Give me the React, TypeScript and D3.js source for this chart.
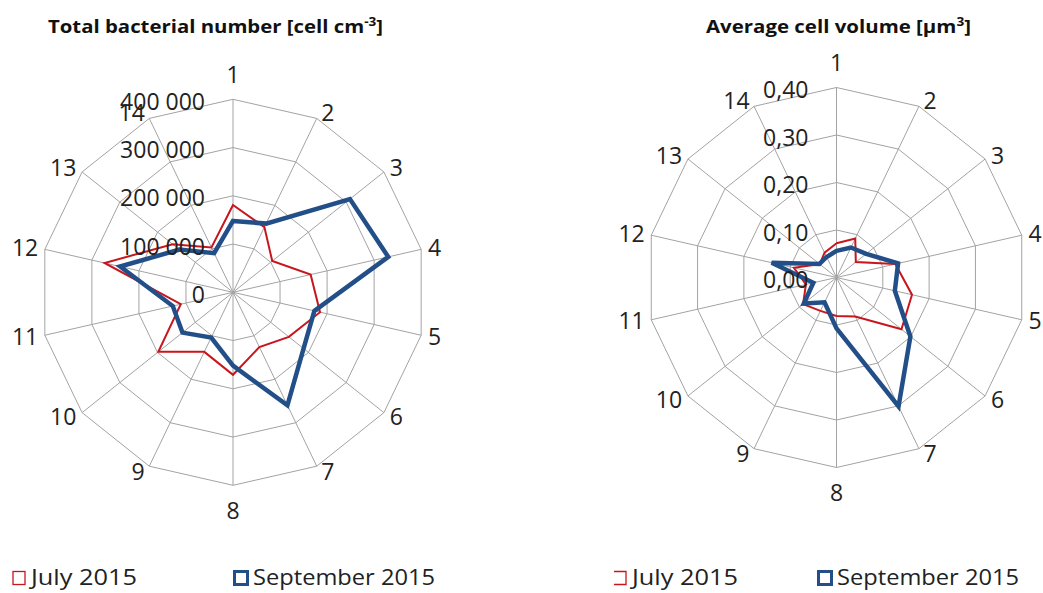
import React from 'react';
import * as d3 from 'd3';

const categories = ['1','2','3','4','5','6','7','8','9','10','11','12','13','14'];

// Total bacterial number [cell cm-3]
const bactJuly = [181000,150000,104000,165000,185000,148000,126000,171000,137000,198000,111000,273000,160000,103000];
const bactSept = [148000,158000,310000,330000,173000,187000,260000,152000,104000,134000,128000,240000,142000,90000];
const bactTicks = [0,100000,200000,300000,400000];
const bactTickLabels = ['0','100 000','200 000','300 000','400 000'];

// Average cell volume [µm3]
const volJuly = [0.072,0.091,0.052,0.127,0.163,0.175,0.091,0.081,0.078,0.090,0.066,0.092,0.045,0.058];
const volSept = [0.056,0.070,0.080,0.133,0.126,0.199,0.301,0.107,0.058,0.088,0.050,0.140,0.046,0.048];
const volTicks = [0,0.1,0.2,0.3,0.4];
const volTickLabels = ['0,00','0,10','0,20','0,30','0,40'];

const seriesNames = ['July 2015','September 2015'];
const RED = '#c8161d';
const BLUE = '#224f88';
const GRID = '#a3a3a3';
const FONT = '"Open Sans", "Noto Sans", sans-serif';

type RadarProps = {
  cx: number; cy: number; R: number;
  july: number[]; sept: number[];
  ticks: number[]; tickLabels: string[];
};

function Radar({ cx, cy, R, july, sept, ticks, tickLabels }: RadarProps) {
  const n = categories.length;
  const maxV = ticks[ticks.length - 1];
  const r = d3.scaleLinear().domain([0, maxV]).range([0, R]);
  const ang = (i: number) => (i * 2 * Math.PI) / n;
  const pt = (i: number, rad: number): [number, number] => [
    cx + rad * Math.sin(ang(i)),
    cy - rad * Math.cos(ang(i)),
  ];
  const line = d3
    .lineRadial<number>()
    .angle((_, i) => ang(i))
    .radius((d) => r(d))
    .curve(d3.curveLinearClosed);
  const fs = 23;
  return (
    <g>
      {ticks.slice(1).map((t, k) => (
        <polygon
          key={'ring' + k}
          points={categories.map((_, i) => pt(i, r(t)).join(',')).join(' ')}
          fill="none"
          stroke={GRID}
          strokeWidth={1}
        />
      ))}
      {categories.map((_, i) => {
        const [x, y] = pt(i, R);
        return <line key={'sp' + i} x1={cx} y1={cy} x2={x} y2={y} stroke={GRID} strokeWidth={1} />;
      })}
      <path d={line(july) || ''} transform={`translate(${cx},${cy})`} fill="none" stroke={RED} strokeWidth={2} strokeLinejoin="miter" />
      <path d={line(sept) || ''} transform={`translate(${cx},${cy})`} fill="none" stroke={BLUE} strokeWidth={4.5} strokeLinejoin="miter" />
      {ticks.map((t, k) => (
        <text
          key={'tl' + k}
          x={cx - 28}
          y={cy - r(t) + 2.4 + 0.357 * fs}
          textAnchor="end"
          fontFamily={FONT}
          fontSize={fs}
          fill="#222"
        >
          {tickLabels[k]}
        </text>
      ))}
      {categories.map((c, i) => {
        const s = Math.sin(ang(i));
        const co = Math.cos(ang(i));
        const [vx, vy] = pt(i, R);
        const hw = c.length * 6.4;
        let lx: number, ly: number;
        if (Math.abs(s) < 0.1) {
          lx = vx;
          ly = vy - co * 25;
        } else {
          lx = vx + Math.sign(s) * (hw + 3 + 4 * Math.abs(s));
          ly = vy - co * 6;
        }
        return (
          <text
            key={'cl' + i}
            x={lx}
            y={ly + 0.357 * fs}
            textAnchor="middle"
            fontFamily={FONT}
            fontSize={fs}
            fill="#222"
          >
            {c}
          </text>
        );
      })}
    </g>
  );
}

function Legend({ x0, x1, openRed }: { x0: number; x1: number; openRed?: boolean }) {
  const y = 585;
  return (
    <g fontFamily={FONT} fontSize={22} fill="#222">
      {openRed ? (
        <path d={`M${x0},571.5 H${x0 + 12} V584.5 H${x0}`} fill="none" stroke={RED} strokeWidth={1.3} />
      ) : (
        <rect x={x0} y={571.5} width={12} height={13} fill="none" stroke={RED} strokeWidth={1.3} />
      )}
      <text x={x0 + 18} y={y} textLength={106} lengthAdjust="spacingAndGlyphs">{seriesNames[0]}</text>
      <rect x={x1 + 1.5} y={571.5} width={13} height={13} fill="#fff" stroke={BLUE} strokeWidth={3} />
      <text x={x1 + 20} y={y} textLength={182} lengthAdjust="spacingAndGlyphs">{seriesNames[1]}</text>
    </g>
  );
}

export default function App() {
  return (
    <svg width={1043} height={593} style={{ position: 'absolute', left: 0, top: 0, background: '#fff' }}>
      <rect width={1043} height={593} fill="#fff" />
      <text x={48} y={32.7} fontFamily={FONT} fontWeight="bold" fontSize={18} fill="#111" textLength={335} lengthAdjust="spacingAndGlyphs">
        Total bacterial number [cell cm<tspan dy={-7} fontSize={12}>-3</tspan><tspan dy={7}>]</tspan>
      </text>
      <text x={706} y={32.7} fontFamily={FONT} fontWeight="bold" fontSize={18} fill="#111" textLength={265} lengthAdjust="spacingAndGlyphs">
        Average cell volume [µm<tspan dy={-7} fontSize={12}>3</tspan><tspan dy={7}>]</tspan>
      </text>
      <Radar cx={233} cy={292.3} R={193} july={bactJuly} sept={bactSept} ticks={bactTicks} tickLabels={bactTickLabels} />
      <Radar cx={836.5} cy={277.5} R={190} july={volJuly} sept={volSept} ticks={volTicks} tickLabels={volTickLabels} />
      <Legend x0={13} x1={233} />
      <Legend x0={614} x1={817} openRed />
    </svg>
  );
}
